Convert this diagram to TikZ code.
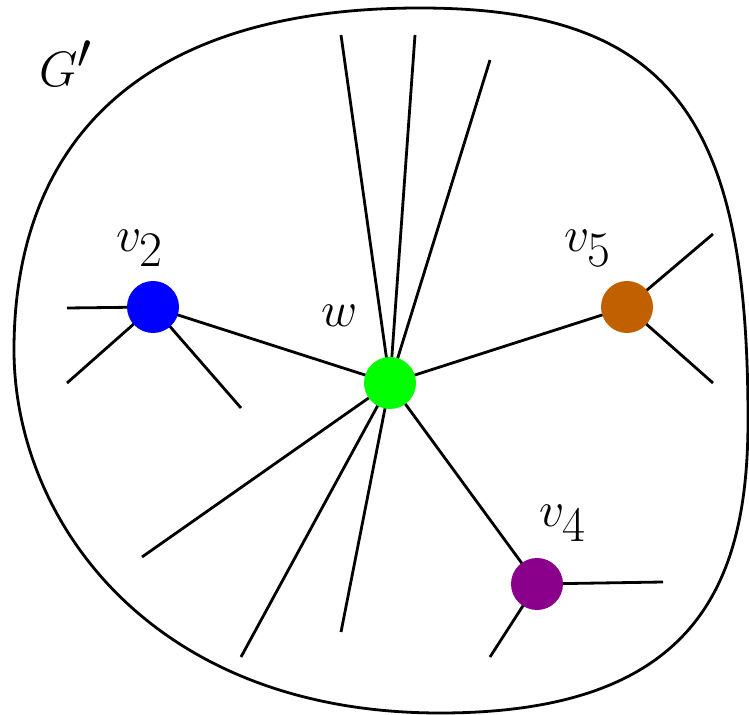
\documentclass[tikz,border=0pt]{standalone}
\definecolor{vblue}{RGB}{0,0,255}
\definecolor{vgreen}{RGB}{0,255,0}
\definecolor{vorange}{RGB}{192,96,0}
\definecolor{vpurple}{RGB}{139,0,139}
\begin{document}
\begin{tikzpicture}[x=0.5pt,y=-0.5pt,
  vert/.style={circle,inner sep=0pt,minimum size=26pt},
  lbl/.style={inner sep=0pt,font=\fontsize{34}{40}\selectfont},
  edge/.style={line width=1.4pt,black}]
\useasboundingbox (0,0) rectangle (749,715);
% outer region
\coordinate (L) at (14,350);
\coordinate (T) at (420,8);
\coordinate (R) at (748,420);
\coordinate (B) at (440,713);
\draw[line width=1.4pt] (L) .. controls (14,160) and (121,8) .. (T)
  .. controls (676,8) and (748,124) .. (R)
  .. controls (748,584) and (696,713) .. (B)
  .. controls (149,713) and (14,518) .. (L) -- cycle;
% coordinates of free ends
\coordinate (a1) at (341,35);
\coordinate (a2) at (415,35);
\coordinate (a3) at (490,60);
\coordinate (a4) at (142,557);
\coordinate (a5) at (241,657);
\coordinate (a6) at (341,632);
\coordinate (b1) at (67,308);
\coordinate (b2) at (67,383);
\coordinate (b3) at (241,408);
\coordinate (c1) at (713,234);
\coordinate (c2) at (713,383);
\coordinate (d1) at (663,582);
\coordinate (d2) at (490,657);
% vertex positions
\coordinate (pw) at (390,383);
\coordinate (p2) at (153,307);
\coordinate (p5) at (627,307);
\coordinate (p4) at (537,584);
% edges
\foreach \t in {a1,a2,a3,a4,a5,a6,p2,p5,p4} \draw[edge] (pw) -- (\t);
\foreach \t in {b1,b2,b3} \draw[edge] (p2) -- (\t);
\foreach \t in {c1,c2} \draw[edge] (p5) -- (\t);
\foreach \t in {d1,d2} \draw[edge] (p4) -- (\t);
% vertices
\node[vert,fill=vgreen] (w) at (pw) {};
\node[vert,fill=vblue] (v2) at (p2) {};
\node[vert,fill=vorange] (v5) at (p5) {};
\node[vert,fill=vpurple] (v4) at (p4) {};
% labels
\node[lbl] (lG) at (66,64) {$G'$};
\node[lbl] (l2) at (140,248) {$v_2$};
\node[lbl] (lw) at (340,316) {$w$};
\node[lbl] (l5) at (588,248) {$v_5$};
\node[lbl] (l4) at (563,523) {$v_4$};
\end{tikzpicture}
\end{document}
